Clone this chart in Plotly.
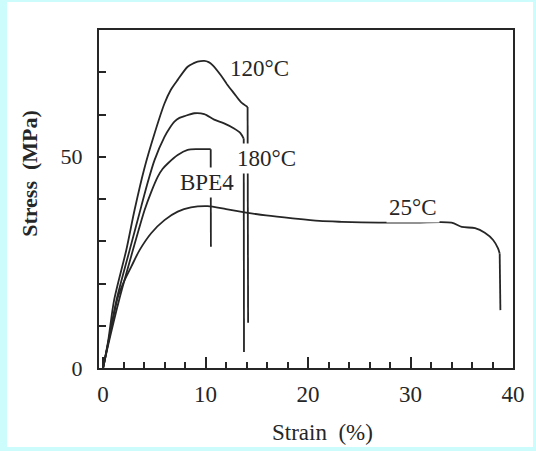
import plotly.graph_objects as go

# ---- data ----
strain_120 = [0, 0.5, 1.07, 2.27, 3.07, 4.0, 5.02, 5.99, 6.6, 7.28, 8.25, 8.8, 9.22, 9.87, 10.3, 10.68, 11.49, 12.14, 12.78, 13.43, 14.1, 14.15]
stress_120 = [0, 6.5, 16, 28, 37.4, 47, 55.5, 62.6, 65.8, 68.2, 71.3, 72.1, 72.5, 72.7, 72.4, 71.7, 69.3, 67.0, 65.0, 63.0, 61.8, 10.7]

strain_180 = [0, 0.5, 1.3, 2.59, 3.72, 4.4, 5.02, 5.99, 6.5, 6.96, 7.45, 7.93, 8.9, 9.87, 10.84, 11.81, 12.78, 13.4, 13.72, 13.75]
stress_180 = [0, 6, 16, 27.9, 38.2, 44.3, 49.2, 54.7, 56.8, 58.3, 59.2, 59.6, 60.3, 60.1, 58.8, 57.9, 56.7, 55.6, 54.3, 3.8]

strain_bpe4 = [0, 0.5, 1.55, 2.91, 4.05, 4.7, 5.34, 5.8, 6.31, 7.28, 8.25, 9.22, 10.5, 10.52]
stress_bpe4 = [0, 5.5, 16, 27.9, 37.4, 41.7, 45.3, 47.1, 48.4, 50.4, 51.6, 51.8, 51.8, 28.7]

strain_25 = [0, 0.5, 1.0, 1.46, 2.1, 2.75, 3.56, 4.69, 5.99, 7.28, 8.57, 10.2, 12.0, 13.95, 15.9, 18.5, 21.1, 23.3, 26.9, 30.5, 34.0, 35.0, 36.3, 37.25, 38.06, 38.54, 38.7, 38.77]
stress_25 = [0, 6, 12, 16.9, 20.8, 24.0, 27.9, 31.9, 35.0, 37.0, 38.0, 38.3, 37.6, 36.8, 36.1, 35.4, 34.8, 34.6, 34.4, 34.4, 34.4, 33.4, 33.1, 32.0, 30.3, 28.3, 27.1, 13.7]

x_tick_vals = [0, 10, 20, 30, 40]
x_tick_text = ["0", "10", "20", "30", "40"]
y_tick_vals = [0, 10, 20, 30, 40, 50, 60, 70]
y_tick_text = ["0", "", "", "", "", "50", "", ""]

labels = ["120°C", "180°C", "BPE4", "25°C"]
label_x = [15.3, 15.95, 10.15, 30.2]
label_y = [70.8, 49.5, 43.8, 38.1]

FONT = "Liberation Serif, Times New Roman, serif"
INK = "#262626"

fig = go.Figure()
for xs, ys in [(strain_120, stress_120), (strain_180, stress_180),
               (strain_bpe4, stress_bpe4), (strain_25, stress_25)]:
    # smooth loading curve
    fig.add_trace(go.Scatter(x=xs[:-1], y=ys[:-1], mode="lines",
                             line=dict(color=INK, width=1.8, shape="spline", smoothing=0.8),
                             showlegend=False, hoverinfo="skip"))
    # vertical failure drop
    fig.add_trace(go.Scatter(x=xs[-2:], y=ys[-2:], mode="lines",
                             line=dict(color=INK, width=1.8),
                             showlegend=False, hoverinfo="skip"))

for t, lx, ly in zip(labels, label_x, label_y):
    fig.add_annotation(x=lx, y=ly, text=t, showarrow=False,
                       xanchor="center", yanchor="middle",
                       font=dict(family=FONT, size=23, color=INK),
                       bgcolor="white", borderpad=2)

# axis titles placed as in the picture
fig.add_annotation(xref="paper", yref="paper", x=0.539, y=-0.192,
                   xanchor="center", yanchor="middle",
                   text="Strain&nbsp;&nbsp;(%)", showarrow=False,
                   font=dict(family=FONT, size=23, color=INK))
fig.add_annotation(xref="paper", yref="paper", x=-0.167, y=0.577,
                   xanchor="center", yanchor="middle",
                   text="<b>Stress&nbsp;&nbsp;(MPa)</b>", showarrow=False, textangle=-90,
                   font=dict(family=FONT, size=22, color=INK))

# white page inside light cyan border
fig.add_shape(type="rect", xref="paper", yref="paper",
              x0=-0.2222, x1=1.0483, y0=-0.2337, y1=1.0828,
              fillcolor="white", line=dict(width=0), layer="below")

fig.update_layout(
    width=536, height=451,
    margin=dict(l=99, r=23, t=30, b=83),
    paper_bgcolor="#ccfcfc",
    plot_bgcolor="white",
    font=dict(family=FONT, size=22, color=INK),
)
fig.update_xaxes(range=[-0.4, 40], tickvals=x_tick_vals, ticktext=x_tick_text,
                 ticks="inside", ticklen=11, tickwidth=1.5, tickcolor=INK,
                 minor=dict(dtick=2, tick0=0, ticks="inside", ticklen=6,
                            tickwidth=1.5, tickcolor=INK, showgrid=False),
                 showline=True, linecolor=INK, linewidth=2, mirror=True,
                 showgrid=False, zeroline=False, ticklabelstandoff=4,
                 tickfont=dict(family=FONT, size=23, color=INK))
fig.update_yaxes(range=[0, 80], tickvals=y_tick_vals, ticktext=y_tick_text,
                 ticks="inside", ticklen=7, tickwidth=1.5, tickcolor=INK,
                 showline=True, linecolor=INK, linewidth=2, mirror=True,
                 showgrid=False, zeroline=False, ticklabelstandoff=10,
                 tickfont=dict(family=FONT, size=22, color=INK))

fig.write_html("out.html", config={"displayModeBar": False},
               post_script="document.body.style.margin='0';")
